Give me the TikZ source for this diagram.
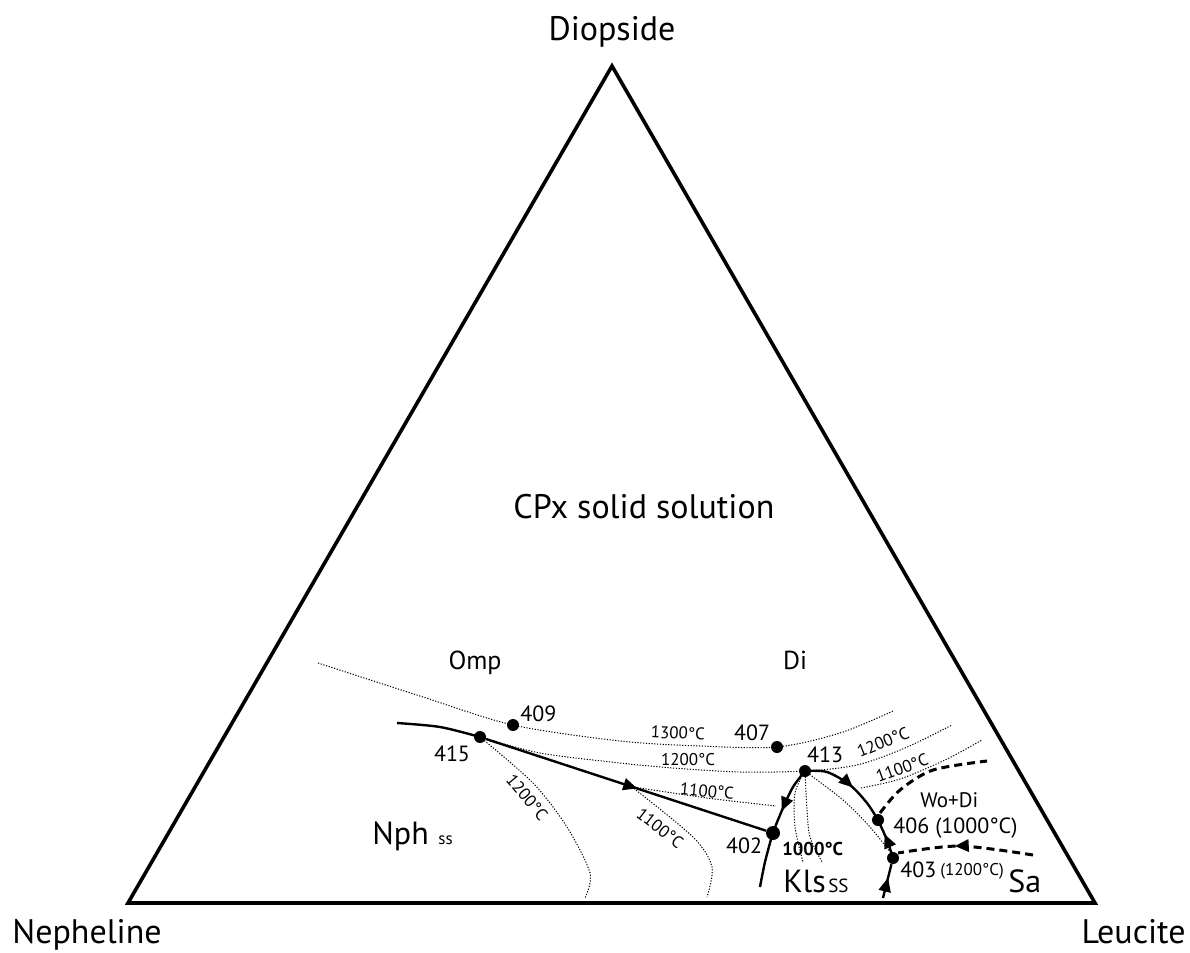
\documentclass[tikz,border=0pt]{standalone}
\usepackage{fontspec}
\setmainfont{PT Sans}
\usetikzlibrary{arrows.meta,positioning}
\usetikzlibrary{decorations.markings}

\tikzset{
  ptdot/.style={circle,fill,inner sep=0pt,minimum size=6pt},
  iso/.style={line width=0.5pt,dash pattern=on 0.6pt off 0.8pt},
  bnd/.style={line width=1.2pt},
  fld/.style={line width=1.5pt,dash pattern=on 4pt off 2.5pt},
  arr/.style={postaction={decorate},decoration={markings,mark=at position #1 with {\arrow{Triangle[length=7pt,width=6pt]}}}},
  txt/.style={inner sep=0pt,anchor=base west},
  bigfont/.style={txt,font=\fontsize{17}{20}\selectfont},
  midfont/.style={txt,font=\fontsize{13}{15}\selectfont},
  numfont/.style={txt,font=\fontsize{11}{13}\selectfont},
  tmpfont/.style={inner sep=0pt,font=\fontsize{8.5}{10}\selectfont},
}

\begin{document}
\begin{tikzpicture}[x=0.5pt,y=-0.5pt]
	\useasboundingbox (0,0) rectangle (1190,953);
	\coordinate (di) at (612,66);
	\coordinate (ne) at (128,903);
	\coordinate (lc) at (1095,903);
	\draw[line width=1.8pt,line join=miter] (di) -- (ne) -- (lc) -- cycle;
	\node[bigfont,anchor=base] at (612,40) (ldi) {Diopside};
	\node[bigfont] at (12,943) (lne) {Nepheline};
	\node[bigfont,anchor=base east] at (1186,943) (llc) {Leucite};
	\node[bigfont] at (513,518) (cpx) {CPx solid solution};

	\node[ptdot] at (513,725) (n409) {};
	\node[ptdot] at (480,737) (n415) {};
	\node[ptdot] at (777,747) (n407) {};
	\node[ptdot] at (805,771) (n413) {};
	\node[ptdot,minimum size=7pt] at (773,833) (n402) {};
	\node[ptdot] at (878,820) (n406) {};
	\node[ptdot] at (893,858) (n403) {};

	\coordinate (c1a) at (318,663);
	\coordinate (c1b) at (893,711);
	\coordinate (c2b) at (952,725);
	\path (n415) -- (n402) coordinate[pos=0.52] (c3a);
	\coordinate (c3b) at (776,806);
	\coordinate (c4a) at (861,788);
	\coordinate (c4b) at (982,740);
	\coordinate (c5b) at (585,898);
	\coordinate (c6b) at (707,897);
	\coordinate (c7b) at (803,862);
	\coordinate (c8b) at (822,862);
	\coordinate (c9b) at (890,852);
	\coordinate (c10a) at (880,813);
	\coordinate (c10b) at (987,761);
	\coordinate (c11a) at (898,853);
	\coordinate (c11b) at (1033,855);
	\coordinate (m0) at (397,723);
	\coordinate (m1) at (760,887);
	\coordinate (m2) at (883,898);

	\draw[iso] plot[smooth] coordinates {(c1a) (420,696) (n409) (620,741) (700,746) (n407) (840,733) (c1b)};
	\draw[iso] plot[smooth] coordinates {(n415) (540,753) (620,763) (673,768) (740,772) (n413) (857,765) (905,748) (c2b)};
	\draw[iso] plot[smooth] coordinates {(c3a) (707,798) (c3b)};
	\draw[iso] plot[smooth] coordinates {(c4a) (900,779) (945,760) (c4b)};
	\draw[iso] plot[smooth] coordinates {(n415) (533,783) (567,827) (590,873) (c5b)};
	\draw[iso] plot[smooth] coordinates {(c3a) (693,837) (712,867) (c6b)};
	\draw[iso] plot[smooth] coordinates {(n413) (795,793) (795,827) (c7b)};
	\draw[iso] plot[smooth] coordinates {(n413) (807,810) (810,837) (c8b)};
	\draw[iso] plot[smooth] coordinates {(n413) (843,800) (870,827) (c9b)};

	\draw[bnd] plot[smooth] coordinates {(m0) (440,727) (n415)};
	\draw[bnd,arr=0.54] (n415) -- (n402);
	\draw[bnd,arr=0.37] plot[smooth] coordinates {(n413) (793,787) (783,808) (n402) (765,862) (m1)};
	\draw[bnd,arr=0.56] plot[smooth] coordinates {(n413) (827,772) (850,785) (867,803) (n406)};
	\draw[bnd,arr=0.62] plot[smooth] coordinates {(n403) (887,840) (n406)};
	\draw[bnd,arr=0.6] (m2) -- (n403);
	\draw[fld] plot[smooth] coordinates {(c10a) (900,790) (933,770) (c10b)};
	\draw[fld,arr=0.58] plot[smooth] coordinates {(c11b) (960,846) (c11a)};

	\node[midfont,anchor=base] at (475,669) (omp) {Omp};
	\node[midfont,anchor=base] at (795,669) (ldi2) {Di};
	\node[numfont] at (520,721) (l409) {409};
	\node[numfont,anchor=base] at (452,761) (l415) {415};
	\node[numfont,anchor=base] at (752,740) (l407) {407};
	\node[numfont,anchor=base] at (825,762) (l413) {413};
	\node[numfont,anchor=base] at (744,853) (l402) {402};
	\node[numfont] at (893,833) (l406) {406 (1000°C)};
	\node[numfont] at (900,877) (l403) {403};
	\node[tmpfont,anchor=base west] at (940,875) (t403) {(1200°C)};
	\node[tmpfont,anchor=base west,font=\fontsize{10.5}{12}\selectfont] at (920,807) (wodi) {Wo+Di};
	\node[bigfont,font=\fontsize{16}{19}\selectfont] at (372,844) (nph) {Nph};
	\node[tmpfont,anchor=base west] at (438,844) (nphss) {ss};
	\node[bigfont,font=\fontsize{16}{19}\selectfont] at (783,892) (kls) {Kls};
	\node[numfont,font=\fontsize{9.5}{11}\selectfont] at (828,892) (klsss) {SS};
	\node[bigfont,font=\fontsize{16}{19}\selectfont] at (1008,892) (sa) {Sa};
	\node[txt,font=\fontsize{9.3}{11}\selectfont\bfseries] at (782,855) (t1000) {1000°C};

	\node[tmpfont,rotate=-3] at (678,733) (t1300) {1300°C};
	\node[tmpfont] at (688,760) (t1200a) {1200°C};
	\node[tmpfont,rotate=-5] at (707,791) (t1100a) {1100°C};
	\node[tmpfont,rotate=-50] at (527,797) (t1200b) {1200°C};
	\node[tmpfont,rotate=-38] at (660,828) (t1100b) {1100°C};
	\node[tmpfont,rotate=22] at (883,742) (t1200c) {1200°C};
	\node[tmpfont,rotate=20] at (902,768) (t1100c) {1100°C};
\end{tikzpicture}
\end{document}
